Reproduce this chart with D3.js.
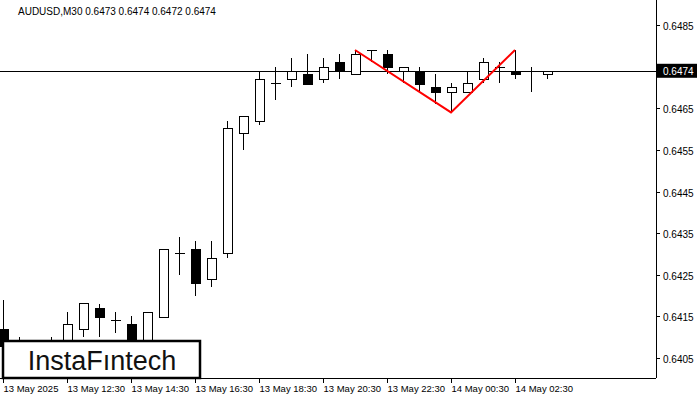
<!DOCTYPE html>
<html><head><meta charset="utf-8">
<script src="https://cdn.jsdelivr.net/npm/d3@7"></script>
<style>body{margin:0;background:#fff}text{font-family:"Liberation Sans",sans-serif}</style>
</head><body><svg id="c" width="700" height="400"></svg>
<script>
const times=["10:30","11:00","11:30","12:00","12:30","13:00","13:30","14:00","14:30","15:00","15:30","16:00","16:30","17:00","17:30","18:00","18:30","19:00","19:30","20:00","20:30","21:00","21:30","22:00","22:30","23:00","23:30","00:00","00:30","01:00","01:30","02:00","02:30","03:00","03:30"];
const opens =[0.6412,0.6409,0.6408,0.6409,0.6408,0.6412,0.6417,0.64141,0.64132,0.6408,0.64149,0.64302,0.64312,0.6424,0.64302,0.6459,0.6462,0.64711,0.6472,0.64732,0.6472,0.6476,0.64732,0.6479,0.6478,0.6474,0.6474,0.64701,0.6469,0.6469,0.6472,0.6475,0.6474,0.6474,0.64732];
const highs =[0.6419,0.6410,0.6409,0.6410,0.6416,0.64182,0.6418,0.6416,0.6415,0.6416,0.64312,0.64341,0.6433,0.6433,0.6462,0.6463,0.6474,0.6475,0.6477,0.6478,0.6477,0.6478,0.6479,0.6479,0.6479,0.6475,0.6475,0.64732,0.6471,0.6474,0.6477,0.6476,0.6479,0.6475,0.6474];
const lows  =[0.6406,0.6408,0.6407,0.6408,0.6406,0.6410,0.6410,0.6411,0.6405,0.6406,0.64149,0.6425,0.6420,0.6422,0.6429,0.6455,0.6461,0.6467,0.6470,0.64708,0.6471,0.6472,0.64732,0.6476,0.64732,0.6471,0.6469,0.6466,0.6464,0.6469,0.6471,0.6471,0.6472,0.6469,0.6472];
const closes=[0.6408,0.6409,0.6408,0.6409,0.64132,0.64182,0.64149,0.64141,0.6407,0.6416,0.64312,0.64302,0.6423,0.6429,0.64603,0.64631,0.6472,0.64711,0.6474,0.64708,0.6475,0.6474,0.6478,0.6479,0.6475,0.6475,0.64708,0.6469,0.64701,0.64711,0.6476,0.6475,0.64732,0.6474,0.6474];
const yTicks=[0.6485,0.6475,0.6465,0.6455,0.6445,0.6435,0.6425,0.6415,0.6405];
const xTickIdx=[0,4,8,12,16,20,24,28,32];
const xTickLabels=["13 May 2025","13 May 12:30","13 May 14:30","13 May 16:30","13 May 18:30","13 May 20:30","13 May 22:30","14 May 00:30","14 May 02:30"];
const patternIdx=[22,28,32];
const patternVals=[0.6479,0.6464,0.6479];
const current=0.6474;

const svg=d3.select("#c");
const x=d3.scaleLinear().domain([0,1]).range([3,19]);
const y=d3.scaleLinear().domain([0.6405,0.6485]).range([358,25]);
const R=656,B=378;
const g=svg.append("g").attr("shape-rendering","crispEdges");
g.append("line").attr("x1",0).attr("x2",R).attr("y1",Math.round(y(current))+0.5).attr("y2",Math.round(y(current))+0.5).attr("stroke","#000");
times.forEach((t,i)=>{
  const cx=Math.round(x(i))+0.5;
  g.append("line").attr("x1",cx).attr("x2",cx).attr("y1",y(highs[i])).attr("y2",y(lows[i])).attr("stroke","#000");
  const o=opens[i],c=closes[i];
  if(Math.abs(o-c)<0.00002){
    g.append("line").attr("x1",cx-5).attr("x2",cx+5).attr("y1",Math.round(y(o))+0.5).attr("y2",Math.round(y(o))+0.5).attr("stroke","#000");
  } else {
    const top=Math.round(y(Math.max(o,c))),bot=Math.round(y(Math.min(o,c)));
    g.append("rect").attr("x",cx-4.5).attr("y",top+0.5).attr("width",9).attr("height",Math.max(1,bot-top))
      .attr("fill",c>o?"#fff":"#000").attr("stroke","#000");
  }
});
svg.append("path").attr("d",d3.line().x((d,k)=>x(patternIdx[k])).y(d=>y(d))(patternVals))
  .attr("fill","none").attr("stroke","#f00").attr("stroke-width",2);
g.append("line").attr("x1",R+0.5).attr("x2",R+0.5).attr("y1",0).attr("y2",B).attr("stroke","#000");
g.append("line").attr("x1",0).attr("x2",R).attr("y1",B+0.5).attr("y2",B+0.5).attr("stroke","#000");
yTicks.forEach(v=>{
  const yy=Math.round(y(v))+0.5;
  g.append("line").attr("x1",R).attr("x2",R+4).attr("y1",yy).attr("y2",yy).attr("stroke","#000");
  if(Math.abs(y(v)-y(current))>10)
    svg.append("text").attr("x",663).attr("y",yy+4).attr("font-size",10).text(v.toFixed(4));
});
xTickIdx.forEach((i,k)=>{
  const xx=Math.round(x(i))+0.5;
  g.append("line").attr("x1",xx).attr("x2",xx).attr("y1",B).attr("y2",B+5).attr("stroke","#000");
  svg.append("text").attr("x",xx).attr("y",392).attr("font-size",9.5).text(xTickLabels[k]);
});
svg.append("rect").attr("x",R+1).attr("y",y(current)-7).attr("width",40).attr("height",14).attr("fill","#000");
svg.append("text").attr("x",663).attr("y",y(current)+4).attr("font-size",10).attr("fill","#fff").text(current.toFixed(4));
svg.append("text").attr("x",18).attr("y",15).attr("font-size",10).text("AUDUSD,M30  0.6473 0.6474 0.6472 0.6474");
svg.append("rect").attr("x",3).attr("y",341).attr("width",197).attr("height",37).attr("fill","#fff").attr("stroke","#000").attr("stroke-width",2.5);
svg.append("text").attr("x",102).attr("y",370).attr("text-anchor","middle").attr("font-family","Inter,'Open Sans',sans-serif").attr("font-weight",500).attr("font-size",27).attr("fill","#111").text("InstaFıntech");
</script></body></html>
